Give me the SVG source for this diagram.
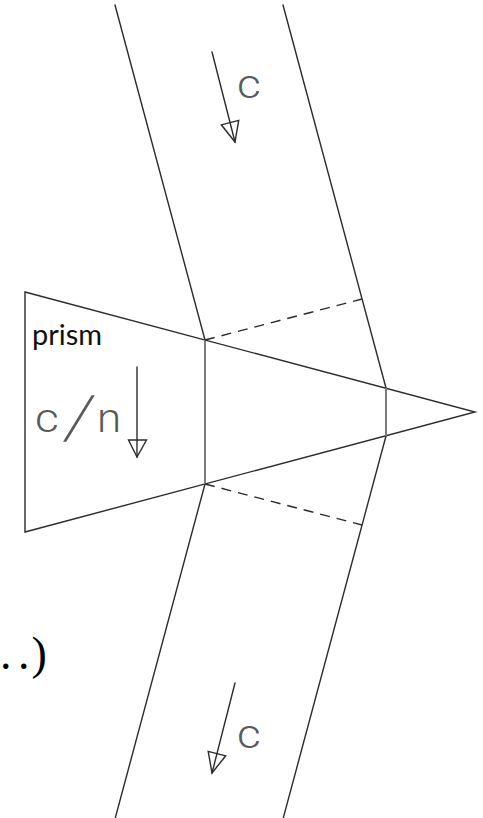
<svg xmlns="http://www.w3.org/2000/svg" width="483" height="818" viewBox="0 0 483 818">
  <style>
    .ln { stroke: #2b2b2b; stroke-width: 1.4; fill: none; stroke-linecap: round; }
    .gr { stroke: #7a7a7a; stroke-width: 2; fill: none; }
    .da { stroke: #2b2b2b; stroke-width: 1.4; fill: none; stroke-dasharray: 10 7; }
    .ah { stroke: #2b2b2b; stroke-width: 1.4; fill: none; stroke-linejoin: miter; }
    .cad { font-family: Roboto, "Open Sans", "DejaVu Sans", sans-serif; font-weight: 300; fill: #5a5a5a; }
  </style>
  <rect width="483" height="818" fill="#ffffff"/>

  <g id="prism">
    <polygon class="ln" points="25,292 475,412 25,532"/>
    <text x="32" y="345" font-family="Lato, 'Open Sans', sans-serif" font-size="28" fill="#111" textLength="70" lengthAdjust="spacingAndGlyphs">prism</text>
  </g>

  <g id="band-top">
    <line class="ln" x1="115" y1="5" x2="205" y2="340"/>
    <line class="ln" x1="283" y1="5" x2="386" y2="388"/>
  </g>

  <g id="band-bottom">
    <line class="ln" x1="205" y1="484" x2="115" y2="819"/>
    <line class="ln" x1="386" y1="436" x2="283" y2="819"/>
  </g>

  <g id="connectors">
    <line class="gr" x1="205" y1="340" x2="205" y2="484"/>
    <line class="gr" x1="386" y1="388" x2="386" y2="436"/>
    <line class="da" x1="205" y1="340" x2="362" y2="299"/>
    <line class="da" x1="205" y1="484" x2="362" y2="525"/>
  </g>

  <g id="arrow-top">
    <line class="ln" x1="212" y1="52" x2="235" y2="142"/>
    <polygon class="ah" points="235,142 238.7,120.4 221.3,124.8"/>
    <text class="cad" font-size="40" transform="translate(237 98) scale(1.15 1)">c</text>
  </g>

  <g id="arrow-bottom">
    <line class="ln" x1="235" y1="683" x2="212" y2="773"/>
    <polygon class="ah" points="212,773 225.7,755.8 208.2,751.4"/>
    <text class="cad" font-size="40" transform="translate(237 748) scale(1.15 1)">c</text>
  </g>

  <g id="arrow-prism">
    <line class="ln" x1="137" y1="367" x2="137" y2="457"/>
    <polygon class="ah" points="137,457 128.5,440 146.5,440"/>
    <text class="cad" font-size="40" transform="translate(35 432) scale(1.15 1)">c</text>
    <text class="cad" font-size="60" transform="translate(63 438) skewX(-13)">/</text>
    <text class="cad" font-size="40" transform="translate(97 432) scale(1.1 1)">n</text>
  </g>

  <g id="ellipsis">
    <text x="0 18 31.6" y="669" font-family="'Liberation Serif', 'Times New Roman', serif" font-size="46" fill="#000">..)</text>
  </g>
</svg>
